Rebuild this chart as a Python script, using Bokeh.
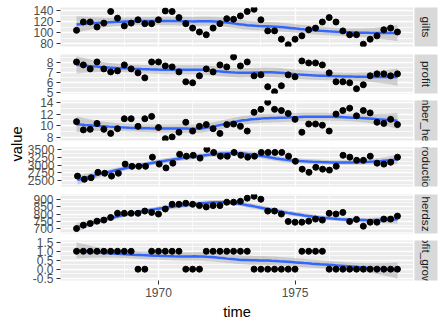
import numpy as np
from bokeh.plotting import figure
from bokeh.layouts import row, column
from bokeh.models import Range1d, FixedTicker, NumeralTickFormatter
from bokeh.core.properties import value
from bokeh.embed import file_html
from bokeh.resources import INLINE

# ---------------- data (quarterly, 1967 Q1 .. 1978 Q4) ----------------
time = [1967.0, 1967.25, 1967.5, 1967.75, 1968.0, 1968.25, 1968.5, 1968.75,
        1969.0, 1969.25, 1969.5, 1969.75, 1970.0, 1970.25, 1970.5, 1970.75,
        1971.0, 1971.25, 1971.5, 1971.75, 1972.0, 1972.25, 1972.5, 1972.75,
        1973.0, 1973.25, 1973.5, 1973.75, 1974.0, 1974.25, 1974.5, 1974.75,
        1975.0, 1975.25, 1975.5, 1975.75, 1976.0, 1976.25, 1976.5, 1976.75,
        1977.0, 1977.25, 1977.5, 1977.75, 1978.0, 1978.25, 1978.5, 1978.75]

gilts = [104, 119, 119, 110, 117, 138, 126, 112, 117, 123, 116, 116,
         123, 139, 138, 127, 116, 108, 101, 96, 108, 116, 125, 124,
         130, 138, 142, 123, 103, 103, 88, 78, 88, 94, 105, 108,
         119, 127, 119, 103, 96, 96, 79, 88, 94, 105, 108, 101]

profit = [8.1, 7.8, 7.4, 8.1, 7.4, 7.1, 7.2, 7.8, 7.4, 7.0, 6.5, 8.1,
          8.1, 7.7, 7.6, 7.1, 6.1, 6.0, 6.7, 7.4, 7.1, 7.8, 7.6, 8.6,
          7.7, 8.1, 6.7, 6.8, 5.6, 5.1, 5.7, 6.8, 6.6, 8.2, 8.0, 8.0,
          7.8, 7.0, 6.1, 6.1, 6.0, 5.4, 5.8, 6.7, 6.9, 6.9, 6.7, 6.9]

number_herds = [10.7, 9.3, 9.4, 10.4, 9.4, 8.7, 9.5, 11.2, 11.2, 9.9, 11.2, 11.6,
                9.7, 7.8, 8.1, 8.9, 10.6, 9.1, 9.9, 10.2, 9.5, 8.7, 10.2, 10.3,
                9.9, 9.1, 12.3, 12.8, 14.0, 12.8, 12.6, 12.1, 11.1, 8.9, 10.3, 10.3,
                10.1, 9.1, 12.0, 12.6, 13.0, 11.7, 12.6, 12.2, 10.6, 10.4, 11.1, 10.2]

production = [2650, 2550, 2600, 2770, 2740, 2650, 2740, 3030, 2960, 2960, 2960, 3250,
              3030, 2910, 3060, 3340, 3280, 3310, 3220, 3500, 3400, 3280, 3280, 3400,
              3310, 3250, 3280, 3400, 3400, 3400, 3400, 3280, 3120, 2870, 2770, 2930,
              2870, 2840, 2960, 3310, 3250, 3150, 3150, 3280, 3060, 3030, 3090, 3250]

herdsz = [702, 725, 736, 752, 759, 777, 805, 805, 805, 805, 820, 811,
          800, 834, 866, 866, 873, 866, 857, 848, 857, 857, 880, 880,
          886, 907, 920, 900, 820, 820, 800, 750, 745, 745, 752, 766,
          759, 805, 800, 811, 750, 764, 718, 745, 745, 766, 766, 786]

profit_growth = [1, 1, 1, 1, 1, 1, 1, 1, 1, 0, 0, 1, 1, 1, 1, 1, 0, 0, 0, 1, 1, 1, 1, 1,
                 1, 1, 0, 0, 0, 0, 0, 0, 0, 1, 1, 1, 1, 0, 0, 0, 0, 0, 0, 0, 0, 0, 0, 0]

series_names = ["gilts", "profit", "number_herds", "production", "herdsz", "profit_growth"]
series_values = [gilts, profit, number_herds, production, herdsz, profit_growth]

y_major_ticks = [[80, 100, 120, 140],
                 [5, 6, 7, 8],
                 [8, 10, 12, 14],
                 [2500, 2750, 3000, 3250, 3500],
                 [700, 750, 800, 850, 900],
                 [-0.5, 0.0, 0.5, 1.0, 1.5]]
x_major_ticks = [1970, 1975]

# ---------------- loess smoother (span 0.75, degree 2) with 95% CI ----------------
def t_quantile_975(df):
    z = 1.959963985
    g1 = (z**3 + z) / 4
    g2 = (5 * z**5 + 16 * z**3 + 3 * z) / 96
    g3 = (3 * z**7 + 19 * z**5 + 17 * z**3 - 15 * z) / 384
    g4 = (79 * z**9 + 776 * z**7 + 1482 * z**5 - 1920 * z**3 - 945 * z) / 92160
    return z + g1 / df + g2 / df**2 + g3 / df**3 + g4 / df**4


def loess(x, y, xs, span=0.75):
    x = np.asarray(x, float)
    y = np.asarray(y, float)
    n = len(x)
    q = int(np.floor(n * span))

    def op_row(x0):
        d = np.abs(x - x0)
        h = np.sort(d)[q - 1] * 1.0000001
        u = np.clip(d / h, 0, 1)
        w = (1 - u**3) ** 3
        X = np.column_stack([np.ones(n), x - x0, (x - x0) ** 2])
        XtW = X.T * w
        return np.linalg.solve(XtW @ X, XtW)[0]

    L = np.array([op_row(v) for v in x])
    Ls = np.array([op_row(v) for v in xs])
    fit = Ls @ y
    R = np.eye(n) - L
    M = R.T @ R
    one = np.trace(M)
    two = np.trace(M @ M)
    sigma = np.sqrt(np.sum((R @ y) ** 2) / one)
    tq = t_quantile_975(one**2 / two)
    se = sigma * np.sqrt(np.sum(Ls**2, axis=1))
    return fit, fit - tq * se, fit + tq * se


def minor_of(ticks):
    t = list(ticks)
    step = t[1] - t[0]
    return [t[0] - step / 2] + [(a + b) / 2 for a, b in zip(t[:-1], t[1:])] + [t[-1] + step / 2]


# ---------------- layout constants ----------------
FONT = "Liberation Sans"
W_LABEL = 24
W_PANEL = 389
W_STRIP = 33
EXTRA = 6                       # transparent overlap so edge tick labels are not clipped
tops = [7, 4, 4, 4, 4, 4]       # visible gap above each panel
frames = [39, 39, 40, 39, 39, 40]
bottoms = [4, 3, 3, 4, 3, 46]   # visible gap below each panel

xmin, xmax = min(time), max(time)
xpad = 0.05 * (xmax - xmin)
x_range = Range1d(xmin - xpad, xmax + xpad)
xs = np.linspace(xmin, xmax, 80)

rows = []
n_series = len(series_names)
for k, (name, vals) in enumerate(zip(series_names, series_values)):
    first = k == 0
    last = k == n_series - 1
    fit, lo, hi = loess(time, vals, xs)
    ymin = min(min(vals), lo.min())
    ymax = max(max(vals), hi.max())
    ypad = 0.05 * (ymax - ymin)
    bt = tops[k] + (0 if first else EXTRA)
    bb = bottoms[k] + (0 if last else EXTRA)
    h = bt + frames[k] + bb

    p = figure(width=W_PANEL, height=h, x_range=x_range,
               y_range=Range1d(ymin - ypad, ymax + ypad),
               output_backend="svg", toolbar_location=None,
               x_axis_location="below" if last else None,
               min_border_left=36, min_border_right=0,
               min_border_top=bt, min_border_bottom=bb)
    p.background_fill_color = "#EBEBEB"
    p.border_fill_color = None
    p.outline_line_color = None

    xt = FixedTicker(ticks=x_major_ticks, minor_ticks=minor_of([1967.5, 1970, 1972.5, 1975, 1977.5])[1:-1])
    yt = FixedTicker(ticks=y_major_ticks[k], minor_ticks=minor_of(y_major_ticks[k]))
    for g, t in ((p.xgrid, xt), (p.ygrid, yt)):
        g.ticker = t
        g.grid_line_color = "white"
        g.grid_line_width = 1.4
        g.minor_grid_line_color = "white"
        g.minor_grid_line_width = 0.7

    ax = p.yaxis[0]
    ax.ticker = yt
    ax.axis_line_color = None
    ax.minor_tick_line_color = None
    ax.major_tick_in = 0
    ax.major_tick_out = 4
    ax.major_tick_line_color = "#333333"
    ax.major_label_standoff = 3
    ax.major_label_text_font = FONT
    ax.major_label_text_font_size = "12px"
    ax.major_label_text_color = "#4D4D4D"
    if name == "profit_growth":
        ax.formatter = NumeralTickFormatter(format="0.0")

    if last:
        bx = p.xaxis[0]
        bx.ticker = xt
        bx.axis_line_color = None
        bx.minor_tick_line_color = None
        bx.major_tick_in = 0
        bx.major_tick_out = 4
        bx.major_tick_line_color = "#333333"
        bx.major_label_standoff = 3
        bx.major_label_text_font = FONT
        bx.major_label_text_font_size = "12px"
        bx.major_label_text_color = "#4D4D4D"
        bx.axis_label = "time"
        bx.axis_label_text_font = FONT
        bx.axis_label_text_font_size = "14.7px"
        bx.axis_label_text_font_style = "normal"
        bx.axis_label_text_color = "black"
        bx.axis_label_standoff = 4

    p.varea(x=xs, y1=lo, y2=hi, fill_color="#999999", fill_alpha=0.4)
    p.line(xs, fit, line_color="#3366FF", line_width=2.5)
    p.scatter(time, vals, size=6, color="black")

    s = figure(width=W_STRIP, height=h, x_range=Range1d(0, 1), y_range=Range1d(0, 1),
               output_backend="svg", toolbar_location=None,
               x_axis_location=None, y_axis_location=None,
               min_border_left=1, min_border_right=9,
               min_border_top=bt, min_border_bottom=bb)
    s.background_fill_color = "#D9D9D9"
    s.border_fill_color = None
    s.outline_line_color = None
    s.xgrid.visible = False
    s.ygrid.visible = False
    s.text(x=[0.5], y=[0.5], text=[name], angle=-np.pi / 2,
           text_align="center", text_baseline="middle",
           text_font=value(FONT), text_font_size="11.7px", text_color="#1A1A1A")

    margin = (0, 0, 0, 0) if first else (-2 * EXTRA, 0, 0, 0)
    rows.append(row(p, s, spacing=0, margin=margin))

panels = column(*rows, spacing=0)

total_h = sum(tops) + sum(frames) + sum(bottoms)
panel_top = tops[0]
panel_bottom = total_h - bottoms[-1]
lab = figure(width=W_LABEL, height=total_h, x_range=Range1d(0, W_LABEL), y_range=Range1d(0, total_h),
             output_backend="svg", toolbar_location=None,
             x_axis_location=None, y_axis_location=None, min_border=0)
lab.outline_line_color = None
lab.border_fill_color = None
lab.xgrid.visible = False
lab.ygrid.visible = False
lab.text(x=[16], y=[total_h - (panel_top + panel_bottom) / 2], text=["value"], angle=np.pi / 2,
         text_align="center", text_baseline="middle",
         text_font=value(FONT), text_font_size="14.7px", text_color="black")

layout = row(lab, panels, spacing=0)

open("out.html", "w").write(file_html(layout, INLINE))
